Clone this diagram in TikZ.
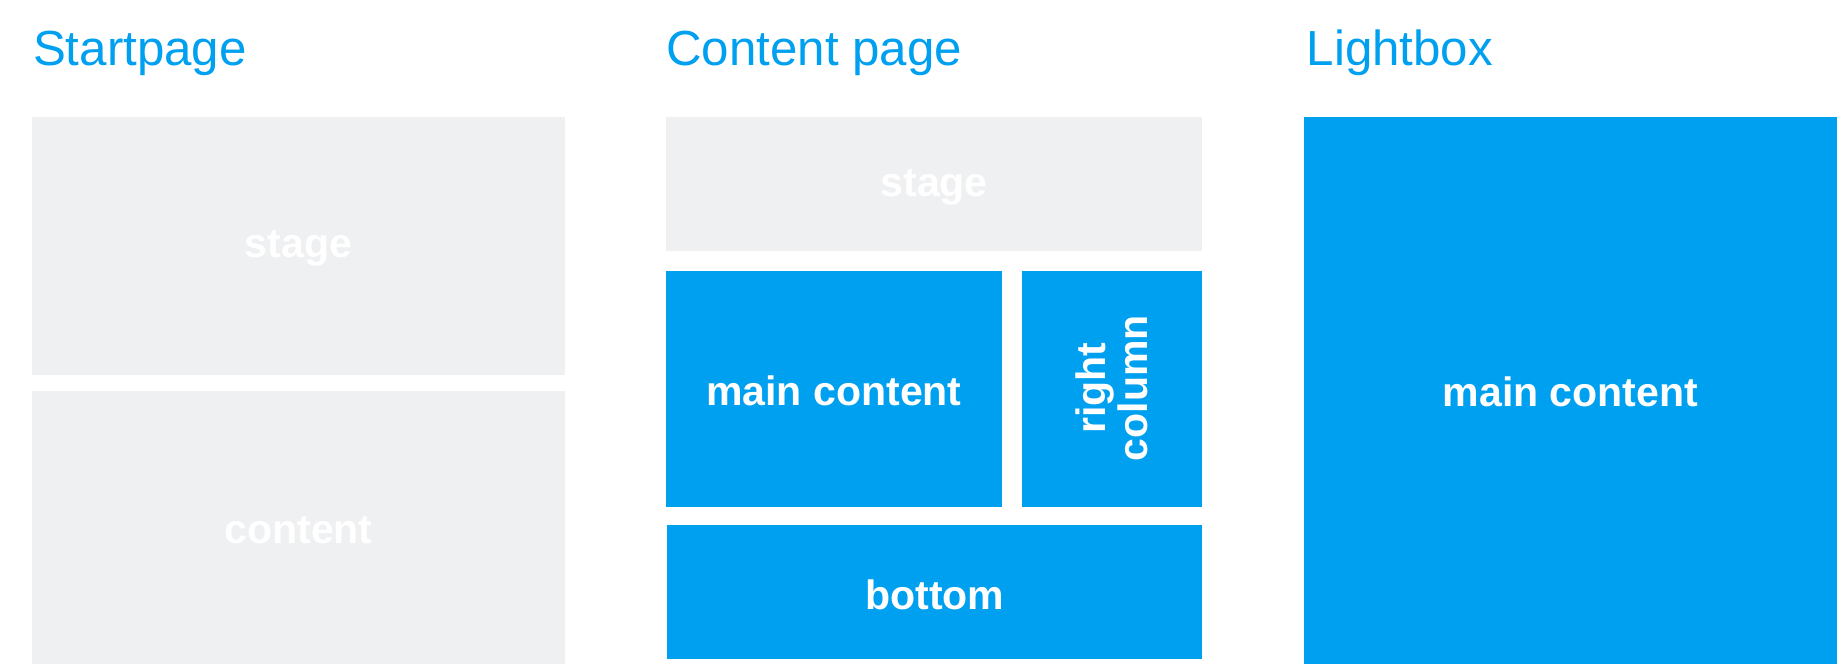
\documentclass[tikz,border=0pt]{standalone}
\usepackage{fontspec}
\setmainfont{Liberation Sans}
\definecolor{gbox}{HTML}{EFF0F2}
\definecolor{bbox}{HTML}{00A0F0}
\begin{document}
\begin{tikzpicture}[x=1pt,y=-1pt,
  title/.style={anchor=base west,inner sep=0,text=bbox,font=\fontsize{42}{48}\selectfont},
  lbl/.style={text=white,font=\bfseries\fontsize{35}{40}\selectfont,align=center}]
\useasboundingbox[fill=white] (0,0) rectangle (1568,566);
\node[title] (t1) at (28,56) {Startpage};
\node[title] (t2) at (568,56) {Content page};
\node[title] (t3) at (1114,56) {Lightbox};
\fill[gbox] (27,100) rectangle (482,320) coordinate (s1);
\node[lbl] (a) at (254.5,212) {stage};
\fill[gbox] (27,333) rectangle (482,566);
\node[lbl] (b) at (254.5,452) {content};
\fill[gbox] (568,100) rectangle (1025,214);
\node[lbl] (c) at (796.5,160) {stage};
\fill[bbox] (568,231) rectangle (854,432);
\node[lbl] (d) at (711,333) {main content};
\fill[bbox] (871,231) rectangle (1025,432);
\node[lbl,rotate=90] (e) at (948,331) {right\\[-4pt]column};
\fill[bbox] (569,448) rectangle (1025,562);
\node[lbl] (f) at (797,507) {bottom};
\fill[bbox] (1112,100) rectangle (1566,566);
\node[lbl] (g) at (1339,334) {main content};
\end{tikzpicture}
\end{document}
